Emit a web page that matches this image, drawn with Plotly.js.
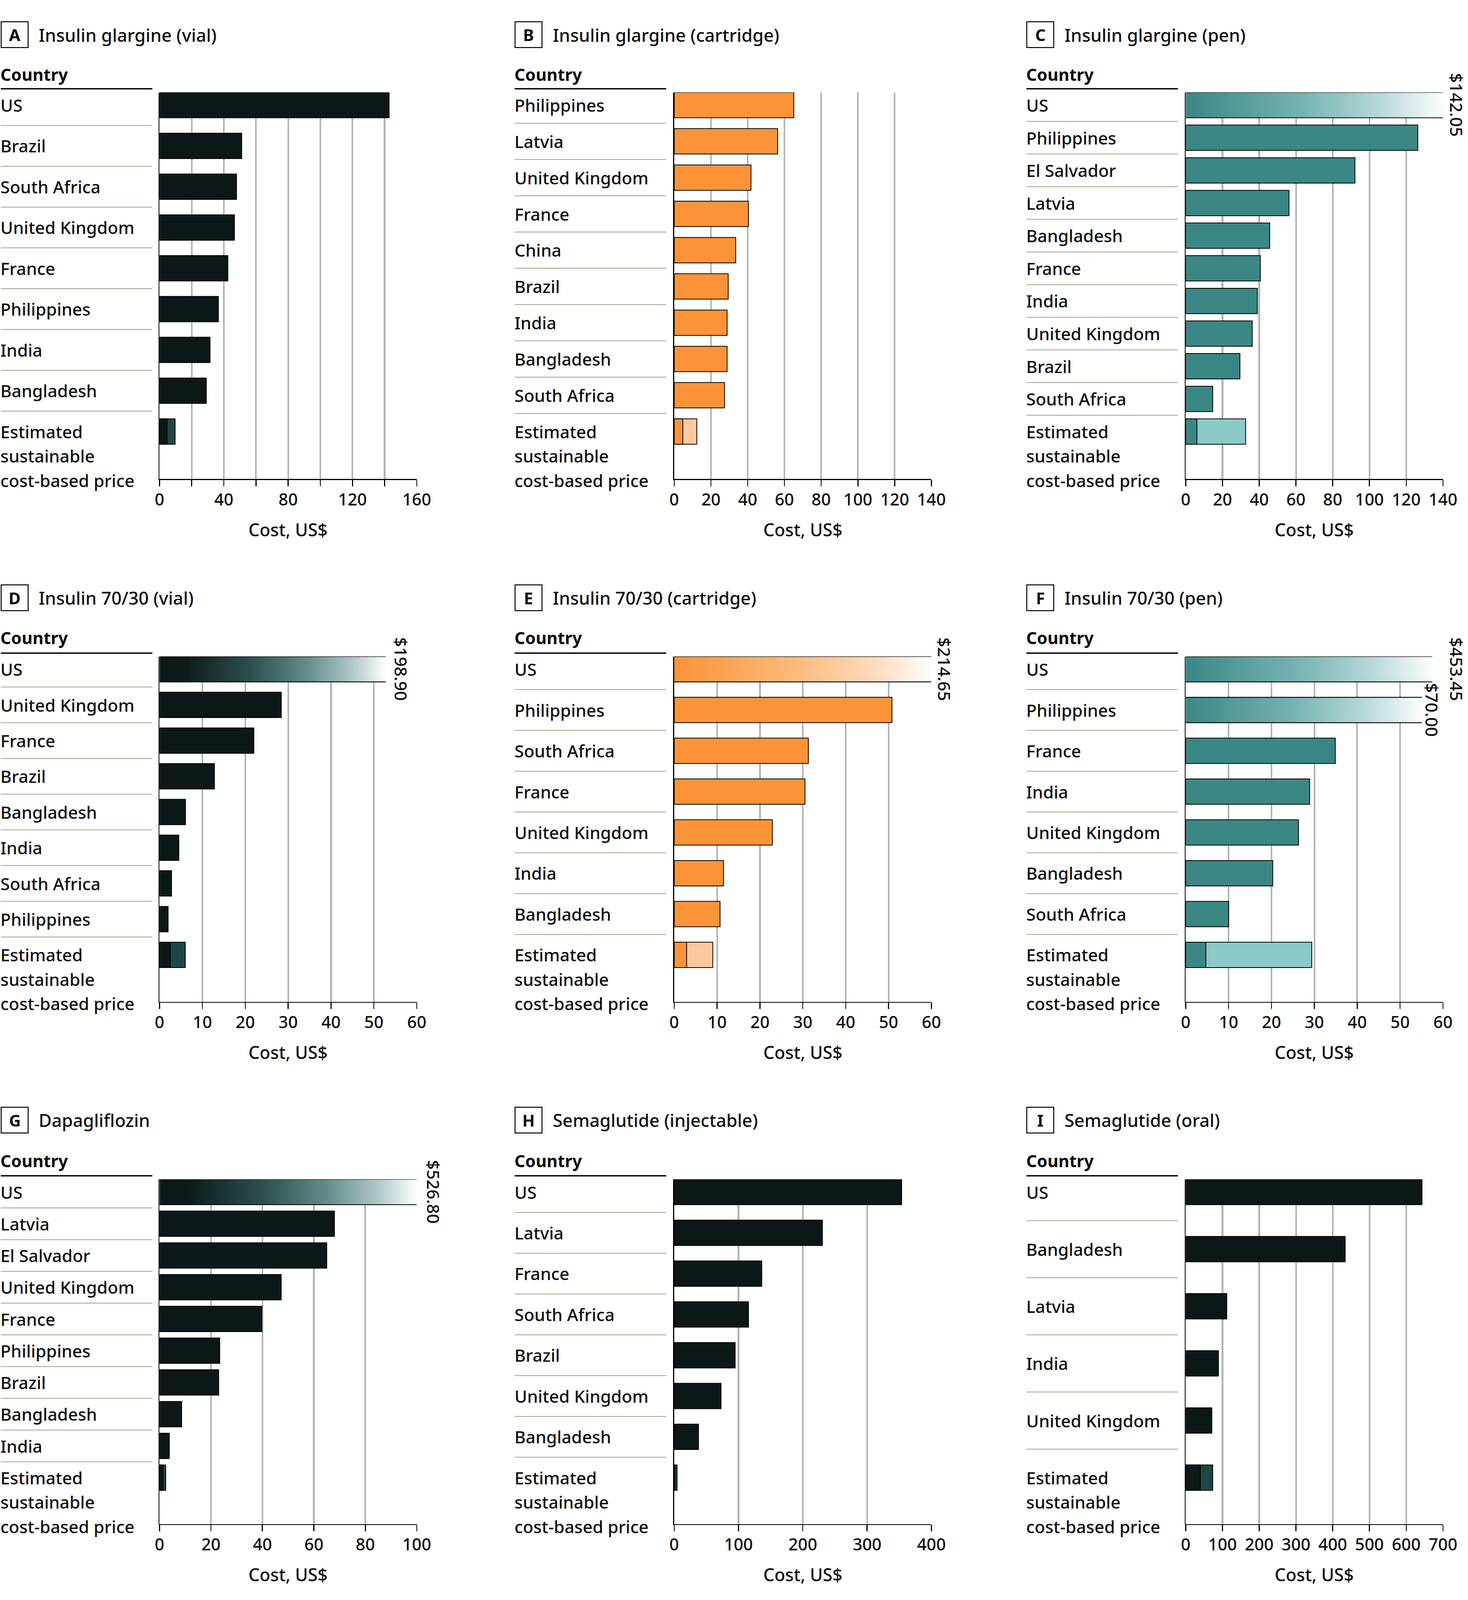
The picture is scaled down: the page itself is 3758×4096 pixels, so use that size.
<!DOCTYPE html>
<html><head><meta charset="utf-8">
<script src="https://cdn.plot.ly/plotly-3.0.1.min.js"></script>
<style>html,body{margin:0;padding:0;background:#fff}#chart{width:3758px;height:4096px}</style>
</head><body><div id="chart"></div>
<script>
// ---------------- DATA ----------------
const estimateLabel = ['Estimated', 'sustainable', 'cost-based price'];

// A Insulin glargine (vial)
const countriesA = ['US','Brazil','South Africa','United Kingdom','France','Philippines','India','Bangladesh'];
const costsA = [142.8, 51.1, 47.9, 46.6, 42.5, 36.6, 31.4, 29.1];
const estimateA = [4.7, 9.7];
const ticksA = [0,20,40,60,80,100,120,140,160];
const tickTextA = ['0','','40','','80','','120','','160'];

// B Insulin glargine (cartridge)
const countriesB = ['Philippines','Latvia','United Kingdom','France','China','Brazil','India','Bangladesh','South Africa'];
const costsB = [65.1, 56.3, 41.8, 40.4, 33.5, 29.4, 28.8, 28.8, 27.4];
const estimateB = [4.7, 12.3];
const ticksB = [0,20,40,60,80,100,120,140];
const tickTextB = ['0','20','40','60','80','100','120','140'];

// C Insulin glargine (pen)
const countriesC = ['US','Philippines','El Salvador','Latvia','Bangladesh','France','India','United Kingdom','Brazil','South Africa'];
const costsC = [142.05, 126.3, 92.1, 56.2, 45.7, 40.6, 39.0, 36.2, 29.5, 14.7];
const estimateC = [6.1, 32.6];
const ticksC = [0,20,40,60,80,100,120,140];
const tickTextC = ['0','20','40','60','80','100','120','140'];

// D Insulin 70/30 (vial)
const countriesD = ['US','United Kingdom','France','Brazil','Bangladesh','India','South Africa','Philippines'];
const costsD = [198.90, 28.4, 22.0, 12.8, 6.05, 4.5, 2.8, 2.0];
const estimateD = [2.5, 6.0];
const ticksD = [0,10,20,30,40,50,60];
const tickTextD = ['0','10','20','30','40','50','60'];

// E Insulin 70/30 (cartridge)
const countriesE = ['US','Philippines','South Africa','France','United Kingdom','India','Bangladesh'];
const costsE = [214.65, 50.8, 31.3, 30.5, 22.9, 11.5, 10.7];
const estimateE = [2.9, 9.0];
const ticksE = [0,10,20,30,40,50,60];
const tickTextE = ['0','10','20','30','40','50','60'];

// F Insulin 70/30 (pen)
const countriesF = ['US','Philippines','France','India','United Kingdom','Bangladesh','South Africa'];
const costsF = [453.45, 70.00, 34.9, 28.9, 26.3, 20.3, 10.0];
const estimateF = [4.7, 29.4];
const ticksF = [0,10,20,30,40,50,60];
const tickTextF = ['0','10','20','30','40','50','60'];

// G Dapagliflozin
const countriesG = ['US','Latvia','El Salvador','United Kingdom','France','Philippines','Brazil','Bangladesh','India'];
const costsG = [526.80, 68.0, 65.0, 47.3, 39.8, 23.4, 23.0, 8.6, 3.8];
const estimateG = [1.3, 2.4];
const ticksG = [0,20,40,60,80,100];
const tickTextG = ['0','20','40','60','80','100'];

// H Semaglutide (injectable)
const countriesH = ['US','Latvia','France','South Africa','Brazil','United Kingdom','Bangladesh'];
const costsH = [353.7, 230.5, 136.2, 115.5, 94.8, 72.8, 37.8];
const estimateH = [0.9, 4.5];
const ticksH = [0,100,200,300,400];
const tickTextH = ['0','100','200','300','400'];

// I Semaglutide (oral)
const countriesI = ['US','Bangladesh','Latvia','India','United Kingdom'];
const costsI = [643, 433.9, 111.6, 89.0, 71.0];
const estimateI = [39.8, 73.4];
const ticksI = [0,100,200,300,400,500,600,700];
const tickTextI = ['0','100','200','300','400','500','600','700'];

// ---------------- STYLE / LAYOUT ----------------
const W = 3758, H = 4096;
const FONT = '"Noto Sans", "Open Sans", "DejaVu Sans", sans-serif';
const TXT = '#0e0e0e';
const FS = 44, TICKFS = 43, WT = 500;
const SCHEMES = {
  dark:   {bar:'#0b1817', est:'#1c4746', grad:[[0,'#0b1817'],[0.12,'#0d1d1c'],[0.4,'#2c4f4d'],[0.65,'#628c8a'],[0.85,'#aec8c7'],[1,'#ffffff']]},
  orange: {bar:'#fd9338', est:'#fdc89d', grad:[[0,'#fd9338'],[0.45,'#fdb877'],[0.75,'#fdd8b5'],[1,'#fffdfb']]},
  teal:   {bar:'#3a8784', est:'#8bcac7', grad:[[0,'#3a8784'],[0.45,'#76b3b1'],[0.75,'#b5d8d7'],[1,'#fbfdfd']]}
};

const panels = [
  {letter:'A', title:'Insulin glargine (vial)', countries:countriesA, costs:costsA, est:estimateA, ticks:ticksA, tickText:tickTextA, scheme:'dark', caps:{}},
  {letter:'B', title:'Insulin glargine (cartridge)', countries:countriesB, costs:costsB, est:estimateB, ticks:ticksB, tickText:tickTextB, scheme:'orange', caps:{}},
  {letter:'C', title:'Insulin glargine (pen)', countries:countriesC, costs:costsC, est:estimateC, ticks:ticksC, tickText:tickTextC, scheme:'teal', caps:{0:{at:140, dx:35}}},
  {letter:'D', title:'Insulin 70/30 (vial)', countries:countriesD, costs:costsD, est:estimateD, ticks:ticksD, tickText:tickTextD, scheme:'dark', caps:{0:{at:52.8, dx:39}}},
  {letter:'E', title:'Insulin 70/30 (cartridge)', countries:countriesE, costs:costsE, est:estimateE, ticks:ticksE, tickText:tickTextE, scheme:'orange', caps:{0:{at:60, dx:33}}},
  {letter:'F', title:'Insulin 70/30 (pen)', countries:countriesF, costs:costsF, est:estimateF, ticks:ticksF, tickText:tickTextF, scheme:'teal', caps:{0:{at:57.5, dx:62}, 1:{at:55.1, dx:26}}},
  {letter:'G', title:'Dapagliflozin', countries:countriesG, costs:costsG, est:estimateG, ticks:ticksG, tickText:tickTextG, scheme:'dark', caps:{0:{at:100, dx:44}}},
  {letter:'H', title:'Semaglutide (injectable)', countries:countriesH, costs:costsH, est:estimateH, ticks:ticksH, tickText:tickTextH, scheme:'dark', caps:{}},
  {letter:'I', title:'Semaglutide (oral)', countries:countriesI, costs:costsI, est:estimateI, ticks:ticksI, tickText:tickTextI, scheme:'dark', caps:{}}
];

const colX = [2, 1317.5, 2627.5];         // label column left (px)
const plotX = [408.4, 1725.9, 3035.4];    // plot area left (px)
const PLOT_W = 658.5;
const LABEL_W = 388;
const TEXT_NUDGE = -3;
const rowFirst = [269, 1713.1, 3051.5];   // center of first bar
const rowLast  = [1104.7, 2444.4, 3782.8];// center of last bar
const rowAxis  = [1226.4, 2564.5, 3901.6];// x axis line
const rowTitle = [88.8, 1530.3, 2867.4];
const rowCountry = [190.6, 1632.2, 2971.9];
const rowUnder = [227.2, 1671.9, 3010];
const BAR = 65;
const LINE_GAP = 62.5;

const px = v => v / W;
const py = v => 1 - v / H;
const fnt = (size, weight) => ({family: FONT, size: size, color: TXT, weight: weight || WT});

const data = [];
const layout = {
  width: W, height: H,
  margin: {l:0, r:0, t:0, b:0},
  paper_bgcolor: '#ffffff', plot_bgcolor: 'rgba(0,0,0,0)',
  showlegend: false, barmode: 'overlay', hovermode: false,
  font: {family: FONT, color: TXT, size: FS},
  annotations: [], shapes: []
};

panels.forEach((p, k) => {
  const col = k % 3, row = Math.floor(k / 3);
  const sfx = k === 0 ? '' : String(k + 1);
  const xr = 'x' + sfx, yr = 'y' + sfx;
  const sch = SCHEMES[p.scheme];
  const n = p.countries.length + 1;
  const estIdx = n - 1;
  const pitch = (rowLast[row] - rowFirst[row]) / (n - 1);
  const half = (BAR / 2) / pitch;
  const wCat = BAR / pitch;
  const lx = px(colX[col] + TEXT_NUDGE);

  layout['xaxis' + sfx] = {
    domain: [px(plotX[col]), px(plotX[col] + PLOT_W)], anchor: yr,
    range: [0, p.ticks[p.ticks.length - 1]],
    tickmode: 'array', tickvals: p.ticks, ticktext: p.tickText,
    showgrid: true, gridcolor: '#b3b3b3', gridwidth: 4.2,
    zeroline: false, showline: true, linecolor: '#000', linewidth: 2.6,
    ticks: 'outside', ticklen: 16, tickwidth: 2.6, tickcolor: '#000',
    ticklabelstandoff: -3,
    tickfont: fnt(TICKFS),
    fixedrange: true
  };
  layout['yaxis' + sfx] = {
    domain: [py(rowAxis[row]), py(rowFirst[row] - BAR / 2)], anchor: xr,
    range: [estIdx + (rowAxis[row] - rowLast[row]) / pitch, -half],
    showgrid: false, zeroline: false, showticklabels: false, ticks: '',
    showline: true, linecolor: '#000', linewidth: 2.6, fixedrange: true
  };

  // regular bars
  const idx = p.costs.map((v, i) => i);
  data.push({
    type: 'bar', orientation: 'h', xaxis: xr, yaxis: yr,
    y: idx, x: p.costs.map((v, i) => (i in p.caps) ? null : v),
    width: wCat,
    marker: {color: sch.bar, line: {color: '#000', width: 2}}
  });
  // estimated sustainable price: range low–high
  data.push({
    type: 'bar', orientation: 'h', xaxis: xr, yaxis: yr,
    y: [estIdx], x: [p.est[1]], width: wCat,
    marker: {color: sch.est, line: {color: '#000', width: 2}}
  });
  data.push({
    type: 'bar', orientation: 'h', xaxis: xr, yaxis: yr,
    y: [estIdx], x: [p.est[0]], width: wCat,
    marker: {color: sch.bar, line: {color: '#000', width: 2}}
  });

  // broken (off-scale) bars with fading gradient
  Object.keys(p.caps).forEach(key => {
    const i = +key, c = p.caps[key];
    data.push({
      type: 'scatter', mode: 'lines', xaxis: xr, yaxis: yr,
      x: [0, c.at, c.at, 0, 0], y: [i - half, i - half, i + half, i + half, i - half],
      fill: 'toself', line: {width: 0, color: 'rgba(0,0,0,0)'},
      fillgradient: {type: 'horizontal', colorscale: sch.grad}
    });
    data.push({
      type: 'scatter', mode: 'lines', xaxis: xr, yaxis: yr,
      x: [0, c.at, null, 0, c.at], y: [i - half, i - half, null, i + half, i + half],
      line: {color: '#000', width: 2.2}
    });
    layout.annotations.push({
      xref: xr, yref: yr, x: c.at, y: i, xshift: c.dx,
      text: '$' + p.costs[i].toFixed(2), textangle: 90, showarrow: false,
      xanchor: 'center', yanchor: 'middle', font: fnt(FS)
    });
  });

  // row labels
  p.countries.forEach((name, i) => {
    layout.annotations.push({
      xref: 'paper', yref: yr, x: lx, y: i, xanchor: 'left', yanchor: 'middle',
      text: name, showarrow: false, font: fnt(FS)
    });
  });
  estimateLabel.forEach((t, j) => {
    layout.annotations.push({
      xref: 'paper', yref: yr, x: lx, y: estIdx, yshift: -LINE_GAP * j,
      xanchor: 'left', yanchor: 'middle',
      text: t, showarrow: false, font: fnt(FS)
    });
  });
  // row separators
  for (let i = 0; i < n - 1; i++) {
    layout.shapes.push({
      type: 'line', xref: 'paper', yref: yr,
      x0: px(colX[col]), x1: px(colX[col] + LABEL_W), y0: i + 0.5, y1: i + 0.5,
      line: {color: '#9ea38c', width: 2}
    });
  }
  // header
  layout.annotations.push({
    xref: 'paper', yref: 'paper', x: lx, y: py(rowCountry[row]),
    xanchor: 'left', yanchor: 'middle', text: 'Country', showarrow: false,
    font: fnt(43, 700)
  });
  layout.shapes.push({
    type: 'line', xref: 'paper', yref: 'paper',
    x0: px(colX[col]), x1: px(colX[col] + LABEL_W), y0: py(rowUnder[row]), y1: py(rowUnder[row]),
    line: {color: '#000', width: 3.5}
  });
  // panel title with letter box
  layout.shapes.push({
    type: 'rect', xref: 'paper', yref: 'paper',
    x0: px(colX[col] + 1), x1: px(colX[col] + 70), y0: py(rowTitle[row] - 33), y1: py(rowTitle[row] + 33),
    line: {color: '#000', width: 2.5}, fillcolor: 'rgba(0,0,0,0)'
  });
  layout.annotations.push({
    xref: 'paper', yref: 'paper', x: px(colX[col] + 35.5), y: py(rowTitle[row]),
    xanchor: 'center', yanchor: 'middle', text: p.letter, showarrow: false,
    font: fnt(42, 700)
  });
  layout.annotations.push({
    xref: 'paper', yref: 'paper', x: px(colX[col] + 95), y: py(rowTitle[row]),
    xanchor: 'left', yanchor: 'middle', text: p.title, showarrow: false,
    font: fnt(45.5)
  });
  // axis title
  layout.annotations.push({
    xref: 'paper', yref: 'paper', x: px(plotX[col] + PLOT_W / 2), y: py(rowAxis[row] + 129),
    xanchor: 'center', yanchor: 'middle', text: 'Cost, US$', showarrow: false,
    font: fnt(45)
  });
});

Plotly.newPlot('chart', data, layout, {staticPlot: true, displayModeBar: false});
</script></body></html>
